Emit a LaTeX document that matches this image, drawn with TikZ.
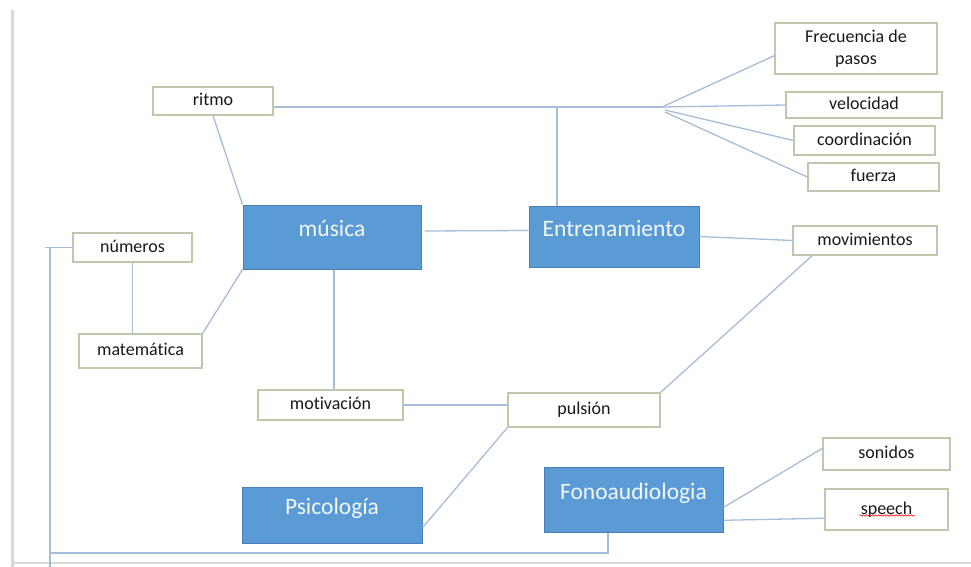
\documentclass[tikz,border=0pt]{standalone}
\usepackage{fontspec}
\setmainfont{Carlito}[Ligatures=NoCommon]
\usetikzlibrary{decorations.pathmorphing}

\definecolor{topicblue}{HTML}{5B9BD5}
\definecolor{topicedge}{HTML}{4A7FB5}
\definecolor{leafedge}{HTML}{BCC9AC}
\definecolor{linkblue}{HTML}{A6BDD9}
\definecolor{framegray}{HTML}{D9D9D9}

\begin{document}
\begin{tikzpicture}[x=1pt,y=-1pt,
  leafbase/.style={draw=leafedge,fill=white,line width=1.3pt,inner sep=0pt,
    font=\fontsize{18}{21.5}\selectfont,text=black!90},
  leaf/.style={leafbase,text height=12.5pt,text depth=3.5pt},
  topic/.style={draw=topicedge,fill=topicblue,line width=1pt,inner sep=0pt,
    font=\fontsize{23.5}{26}\selectfont,text=white!92!topicblue,
    text height=16pt,text depth=17pt},
  link/.style={draw=linkblue,line width=1.3pt}]
  \useasboundingbox (0,0) rectangle (971,567);

  %% page frame
  \draw[framegray,line width=3pt] (12,10) -- (12,567);
  \draw[framegray,line width=2.5pt] (12,563) -- (971,563);

  %% main topics
  \node[topic,minimum width=178pt,minimum height=64pt] (musica) at (332,237) {música};
  \node[topic,minimum width=170pt,minimum height=61pt] (entren) at (614,236.5) {Entrenamiento};
  \node[topic,minimum width=180pt,minimum height=56pt] (psico) at (332,515) {Psicología};
  \node[topic,minimum width=179pt,minimum height=65pt] (fono) at (633.5,499.5) {Fonoaudiologia};

  %% small boxes
  \node[leaf,minimum width=120pt,minimum height=28pt] (ritmo) at (213,101) {ritmo};
  \node[leafbase,align=center,minimum width=162pt,minimum height=51pt] (frec) at (856,48.5) {Frecuencia de\\pasos};
  \node[leaf,minimum width=156pt,minimum height=26pt] (veloc) at (864,105) {velocidad};
  \node[leaf,minimum width=141pt,minimum height=29pt] (coord) at (864.5,140.5) {coordinación};
  \node[leaf,minimum width=131pt,minimum height=28pt] (fuerza) at (873.5,177) {fuerza};
  \node[leaf,minimum width=144pt,minimum height=29pt] (movim) at (865,240.5) {movimientos};
  \node[leaf,minimum width=119pt,minimum height=29pt] (numeros) at (132.5,247.5) {números};
  \node[leaf,minimum width=123pt,minimum height=34pt] (matem) at (140.5,351) {matemática};
  \node[leaf,minimum width=145pt,minimum height=30pt] (motiv) at (330.5,405) {motivación};
  \node[leaf,minimum width=152pt,minimum height=34pt] (pulsion) at (584,410) {pulsión};
  \node[leaf,minimum width=127pt,minimum height=32pt] (sonidos) at (886.5,454) {sonidos};
  \node[leaf,minimum width=123pt,minimum height=41pt] (speech) at (886.5,509.5) {speech};
  \draw[red,line width=0.6pt,decorate,decoration={snake,amplitude=0.7pt,segment length=3pt}]
    ([xshift=-27pt,yshift=-6pt]speech.center) -- ([xshift=28pt,yshift=-6pt]speech.center);

  %% ritmo line and fan
  \coordinate (fan) at (662,107);
  \coordinate (trunk) at (557,107);
  \draw[link] (ritmo.east |- fan) -- (fan);
  \draw[link] (fan) -- (frec.185);
  \draw[link] (fan) -- (veloc.west);
  \draw[link] ([shift={(3,3)}]fan) -- (coord.west);
  \draw[link] ([shift={(3,5)}]fan) -- (fuerza.west);
  \draw[link] (trunk) -- (trunk |- entren.north);

  %% links
  \draw[link] (ritmo.south) -- (musica.north west);
  \draw[link] ([xshift=3pt,yshift=6pt]musica.east) -- ([yshift=6pt]entren.west);
  \draw[link] (entren.east) -- (movim.west);
  \draw[link] (numeros.south) -- (numeros.south |- matem.north);
  \draw[link] (matem.north east) -- (musica.south west);
  \draw[link] ([xshift=2pt]musica.south) -- ([xshift=2pt]musica.south |- motiv.north);
  \draw[link] (motiv.east) -- (motiv.east -| pulsion.west);
  \draw[link] (pulsion.north east) -- (movim.196);
  \draw[link] (pulsion.south west) -- (psico.-8);
  \draw[link] (fono.-5) -- (sonidos.175);
  \draw[link] (fono.-13) -- (speech.188);

  %% loop from Fonoaudiologia round to numeros
  \coordinate (loopR) at (608,553);
  \coordinate (loopL) at (50,553);
  \coordinate (stub) at (45,247.5);
  \draw[link] (loopR |- fono.south) -- (loopR) -- (loopL);
  \draw[link] (loopL |- stub) -- (loopL |- 0,567);
  \draw[link] (stub) -- (numeros.west);
\end{tikzpicture}
\end{document}
